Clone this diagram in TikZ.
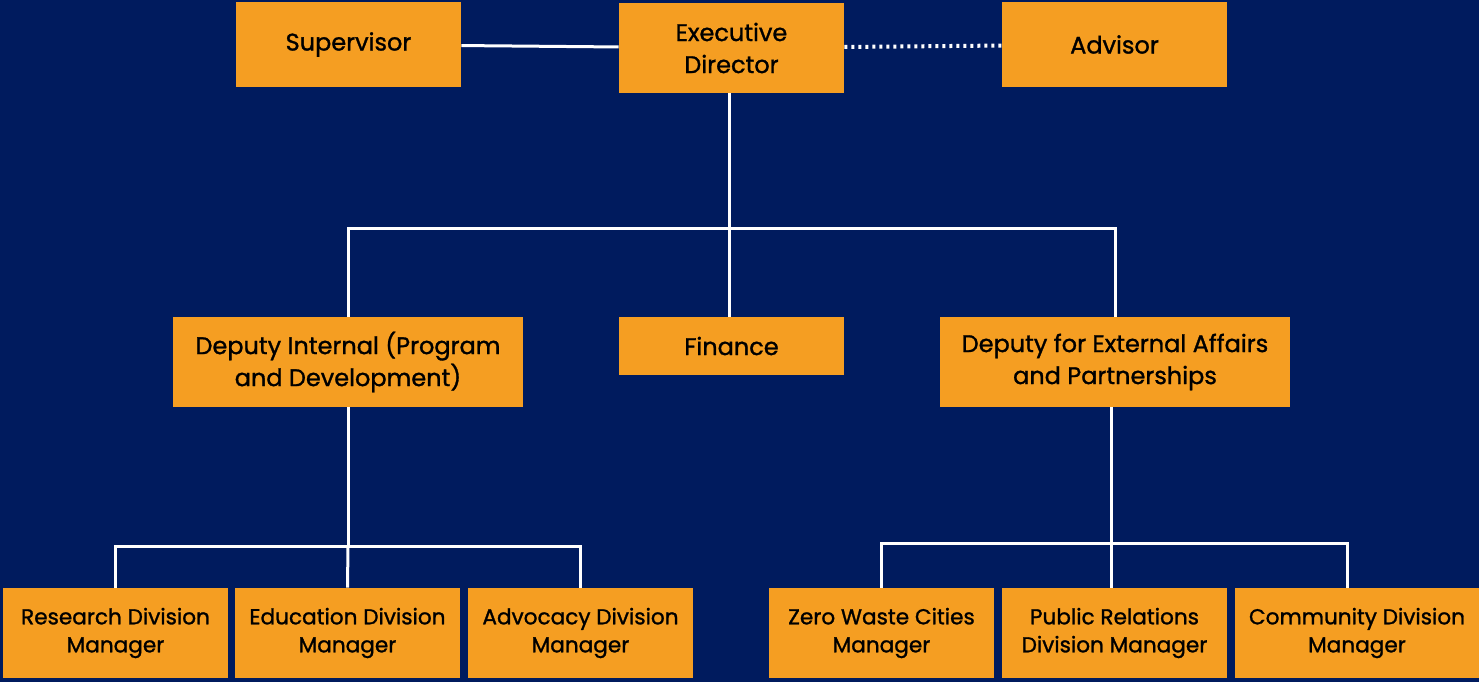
\documentclass[tikz,border=0pt]{standalone}
\usepackage{fontspec}
\setmainfont{Poppins}[BoldFont=Poppins, BoldFeatures={FakeBold=1.2}]
\definecolor{navy}{RGB}{0,27,94}
\definecolor{boxorange}{RGB}{245,158,34}

\begin{document}
\begin{tikzpicture}[x=0.5pt,y=-0.5pt,
    box/.style={fill=boxorange, inner sep=0pt, minimum width=112.5pt, minimum height=45pt,
      align=center, text=black, font=\fontsize{12}{16}\selectfont\bfseries},
    widebox/.style={box, minimum width=175pt},
    lowbox/.style={box, font=\fontsize{10.8}{14}\selectfont\bfseries},
    link/.style={white, line width=1.5pt}]
        % background and frame
        \fill[navy] (0,0) rectangle (1479,682);
        \useasboundingbox (0,0) rectangle (1479,682);

        % top row
        \node[box, minimum height=42.5pt] (sup) at (348.5,44.5) {Supervisor};
        \node[box] (ed) at (731.5,48) {Executive\\Director};
        \node[box, minimum height=42.5pt] (adv) at (1114.5,44.5) {Advisor};

        % deputies
        \node[widebox] (depint) at (348,362) {Deputy Internal (Program\\and Development)};
        \node[box, minimum height=29pt] (fin) at (731.5,346) {Finance};
        \node[widebox] (depext) at (1115,362) {Deputy for External Affairs\\and Partnerships};

        % division managers
        \node[lowbox] (res) at (115.5,633) {Research Division\\Manager};
        \node[lowbox] (edu) at (347.5,633) {Education Division\\Manager};
        \node[lowbox] (advo) at (580.5,633) {Advocacy Division\\Manager};
        \node[lowbox] (zero) at (881.5,633) {Zero Waste Cities\\Manager};
        \node[lowbox] (pr) at (1114.5,633) {Public Relations\\Division Manager};
        \node[lowbox, minimum width=122pt] (com) at (1357,633) {Community Division\\Manager};

        % junctions
        \coordinate (j0) at (729,228);
        \coordinate (j1) at (348,546);
        \coordinate (j2) at (1111,543);

        \draw[link] (sup) -- (ed);
        \draw[link, dotted, line width=2pt] (ed) -- (adv);

        \draw[link] (ed.south -| j0) -- (j0);
        \draw[link] (depint.north) |- (j0) -| (depext.north);
        \draw[link] (j0) -- (fin.north -| j0);

        \draw[link] (depint.south) -- (j1);
        \draw[link] (res.north) |- (j1) -| (advo.north);
        \draw[link] (j1) -- (edu.north);

        \draw[link] (depext.south -| j2) -- (j2);
        \draw[link] (zero.north) |- (j2) -| (com.north -| 1347,0);
        \draw[link] (j2) -- (pr.north -| j2);
\end{tikzpicture}
\end{document}
